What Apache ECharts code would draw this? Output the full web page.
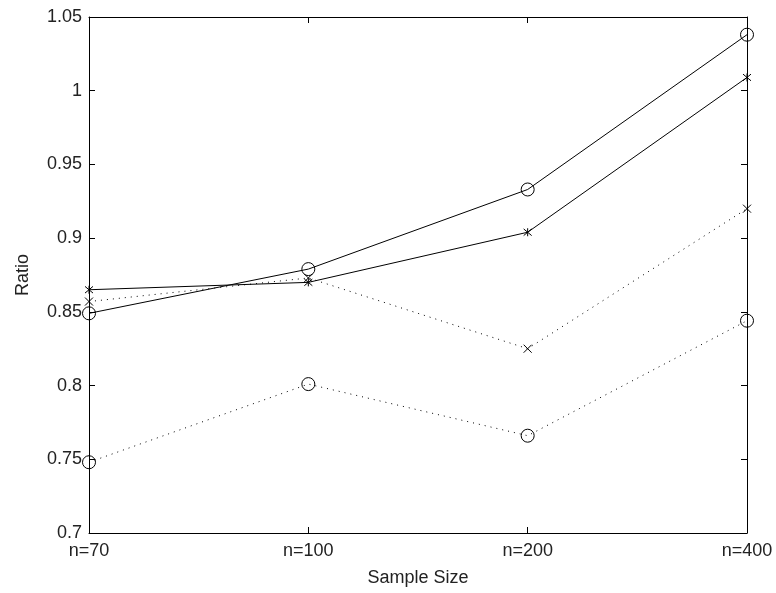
<!DOCTYPE html>
<html>
<head>
<meta charset="utf-8">
<script src="https://cdn.jsdelivr.net/npm/echarts@6/dist/echarts.min.js"></script>
<style>
  html, body {margin: 0; padding: 0; background: #fff;}
  #chart {width: 776px; height: 593px;}
</style>
</head>
<body>
<div id="chart"></div>
<script>
const categories = ['n=70', 'n=100', 'n=200', 'n=400']
const solidCircle = [0.849, 0.879, 0.933, 1.038]
const solidCross = [0.865, 0.870, 0.904, 1.009]
const dottedCross = [0.857, 0.873, 0.825, 0.920]
const dottedCircle = [0.748, 0.801, 0.766, 0.844]

const crossPath = 'path://M0,0L10,10M10,0L0,10'
const starPath = 'path://M0,0L10,10M10,0L0,10M5,-1L5,11'
const font = 'Liberation Sans'
const fontSize = 18

const makeSeries = (data, symbol, size, dotted) => ({
  type: 'line',
  data: data,
  symbol: symbol,
  symbolSize: size,
  showSymbol: true,
  lineStyle: {color: '#000', width: 1, type: dotted ? [1, 5] : 'solid'},
  itemStyle: {color: 'rgba(0,0,0,0)', borderColor: '#000', borderWidth: 1},
  emphasis: {disabled: true},
  animation: false,
  z: 3,
})

const chart = echarts.init(document.getElementById('chart'))

const tickAxis = {
  axisLine: {show: true, lineStyle: {color: '#000', width: 1}},
  axisTick: {show: true, inside: true, length: 6, lineStyle: {color: '#000'}},
  splitLine: {show: false},
}
const catTick = {axisTick: {show: true, inside: true, length: 6, alignWithLabel: true, lineStyle: {color: '#000'}}}

chart.setOption({
  animation: false,
  grid: {left: 89, right: 29, top: 17, bottom: 60, containLabel: false},
  xAxis: [
    Object.assign({
      type: 'category',
      data: categories,
      boundaryGap: false,
      name: 'Sample Size',
      nameLocation: 'middle',
      nameGap: 36,
      nameTextStyle: {fontFamily: font, fontSize: fontSize, color: '#222'},
      axisLabel: {fontFamily: font, fontSize: fontSize, color: '#222', margin: 9},
    }, tickAxis, catTick),
    Object.assign({
      type: 'category',
      data: categories,
      boundaryGap: false,
      position: 'top',
      axisLabel: {show: false},
    }, tickAxis, catTick),
  ],
  yAxis: [
    Object.assign({
      type: 'value',
      min: 0.7,
      max: 1.05,
      interval: 0.05,
      name: 'Ratio',
      nameLocation: 'middle',
      nameGap: 57,
      nameTextStyle: {fontFamily: font, fontSize: fontSize, color: '#222'},
      axisLabel: {
        fontFamily: font, fontSize: fontSize, color: '#222', margin: 7,
        formatter: v => String(parseFloat(v.toFixed(2))),
      },
    }, tickAxis),
    Object.assign({
      type: 'value',
      min: 0.7,
      max: 1.05,
      interval: 0.05,
      position: 'right',
      axisLabel: {show: false},
    }, tickAxis),
  ],
  series: [
    makeSeries(solidCircle, 'circle', 13, false),
    makeSeries(solidCross, starPath, 8, false),
    makeSeries(dottedCross, crossPath, 8, true),
    makeSeries(dottedCircle, 'circle', 13, true),
  ],
})
</script>
</body>
</html>
